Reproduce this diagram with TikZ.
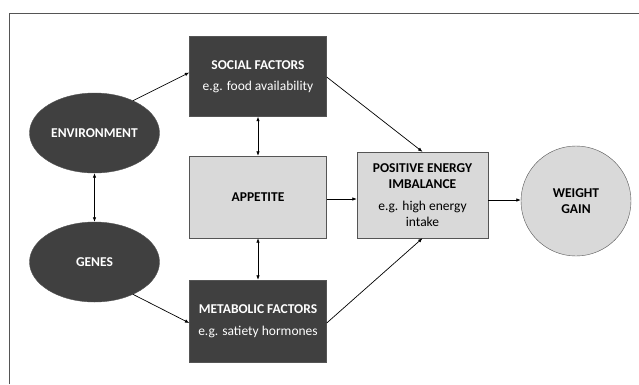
\documentclass[tikz,border=0pt]{standalone}
\usepackage{fontspec}
\setmainfont{Carlito}
\usetikzlibrary{shapes.geometric,arrows.meta}
\definecolor{darkbox}{HTML}{404040}
\definecolor{lightbox}{HTML}{D9D9D9}
\definecolor{edgegray}{HTML}{555555}
\tikzset{
  txt/.style={font=\fontsize{13.5}{16.5}\selectfont},
  darkrect/.style={txt, draw=edgegray, fill=darkbox, text=white, minimum width=137pt, minimum height=80pt, align=center, inner sep=0pt},
  lightrect/.style={txt, draw=edgegray, fill=lightbox, text=black, minimum width=137pt, minimum height=84pt, align=center, inner sep=0pt},
  darkell/.style={ellipse, draw=edgegray, fill=darkbox, text=white, minimum width=130pt, minimum height=80pt, inner sep=0pt, font=\bfseries\fontsize{13.5}{16.5}\selectfont},
  lightcirc/.style={circle, draw=edgegray, fill=lightbox, minimum size=110pt, inner sep=0pt, align=center, font=\bfseries\fontsize{13.5}{16.5}\selectfont},
  conn/.style={draw=black, line width=0.7pt, -{Latex[length=4.5pt,width=3.5pt]}},
  biconn/.style={draw=black, line width=0.7pt, {Latex[length=4.5pt,width=3.5pt]}-{Latex[length=4.5pt,width=3.5pt]}},
  framepen/.style={draw=edgegray, line width=0.8pt}
}
\begin{document}
\begin{tikzpicture}[x=1pt,y=-1pt]
\useasboundingbox (0,0) rectangle (639,384);
\fill[white] (0,0) rectangle (639,384);
\coordinate (fa) at (9,384);
\coordinate (fb) at (9,13);
\coordinate (fc) at (639,13);
\draw[framepen] (fa) -- (fb) -- (fc);

\node[darkrect] (social) at (258,76.5) {\textbf{SOCIAL FACTORS}\\[5pt]e.g. food availability};
\node[lightrect, minimum height=82pt] (appetite) at (258,197) {\textbf{APPETITE}};
\node[darkrect, minimum height=82pt] (metab) at (258,321) {\textbf{METABOLIC FACTORS}\\[5pt]e.g. satiety hormones};
\node[lightrect, minimum width=131pt, minimum height=86pt] (pos) at (422.5,195) {\textbf{POSITIVE ENERGY}\\\textbf{IMBALANCE}\\[5pt]e.g. high energy\\intake};
\node[lightcirc] (weight) at (576,201) {WEIGHT\\GAIN};
\node[darkell] (env) at (94.5,133) {ENVIRONMENT};
\node[darkell] (genes) at (94.5,262) {GENES};

\draw[conn] (env.40) -- ([yshift=4pt]social.west);
\draw[conn] (genes.-40) -- ([yshift=-2pt]metab.west);
\draw[biconn] (env) -- (genes);
\draw[biconn] (social) -- (appetite);
\draw[biconn] (appetite) -- (metab);
\draw[conn] (social.east |- 0,77) -- (pos.north);
\draw[conn] (metab.east |- 0,323) -- (pos.south);
\draw[conn] (appetite.east |- 0,199) -- (pos.west |- 0,199);
\draw[conn] (pos.east |- 0,200) -- (weight.west |- 0,200);
\end{tikzpicture}
\end{document}
